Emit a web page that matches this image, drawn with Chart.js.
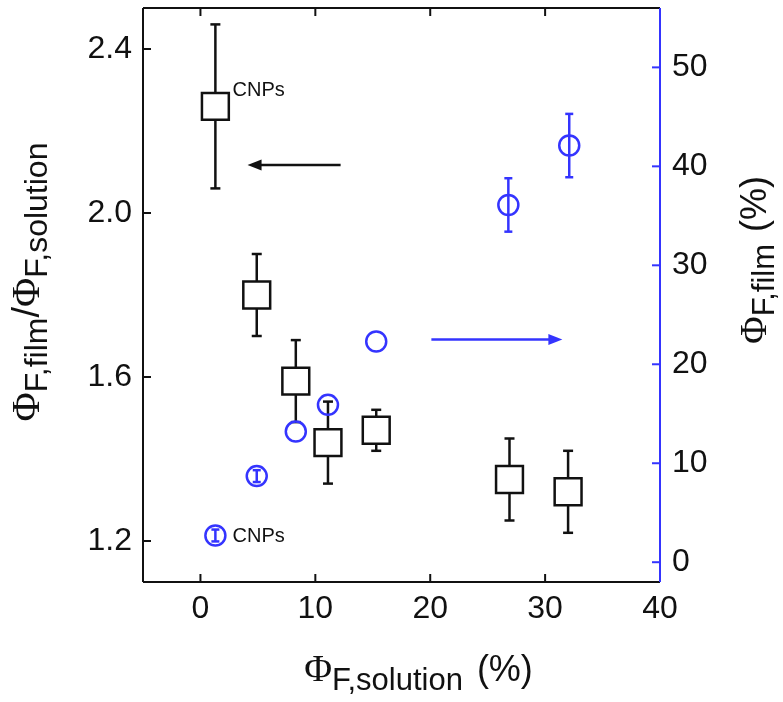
<!DOCTYPE html>
<html>
<head>
<meta charset="utf-8">
<script src="https://cdn.jsdelivr.net/npm/chart.js@4.4.0/dist/chart.umd.min.js"></script>
<style>
  html, body { margin: 0; padding: 0; background: #fff; }
  #wrap { width: 783px; height: 702px; }
</style>
</head>
<body>
<div id="wrap"><canvas id="chart" width="783" height="702"></canvas></div>
<script>
// ratio film/solution (left axis), black squares
const ratioX = [1.3, 4.9, 8.3, 11.1, 15.3, 26.9, 32.0];
const ratioY = [2.26, 1.80, 1.59, 1.44, 1.47, 1.35, 1.32];
const ratioErr = [0.20, 0.10, 0.10, 0.10, 0.05, 0.10, 0.10];

// quantum yield of the film in % (right axis), blue circles
const filmX = [1.3, 4.9, 8.3, 11.1, 15.3, 26.8, 32.1];
const filmY = [2.7, 8.7, 13.2, 15.9, 22.3, 36.1, 42.1];
const filmErr = [0.6, 0.6, 0, 0, 0, 2.7, 3.2];

const xTicks = [0, 10, 20, 30, 40];
const leftTicks = [1.2, 1.6, 2.0, 2.4];
const rightTicks = [0, 10, 20, 30, 40, 50];

const BLUE = '#3434ff';
const INK = '#111';
const SANS = '"Liberation Sans", Arial, sans-serif';
const SERIF = '"Liberation Serif", "Times New Roman", serif';

function setStatus(msg) { console.log(msg); }

function toPoints(xs, ys) { return xs.map((x, i) => ({ x, y: ys[i] })); }

function fixTicks(list) {
  return scale => { scale.ticks = list.map(v => ({ value: v })); };
}

// fixed axis box, no extra room for overhanging labels
function fitBox(prop, size) {
  return scale => {
    scale[prop] = size;
    scale.paddingTop = 0; scale.paddingBottom = 0;
    scale.paddingLeft = 0; scale.paddingRight = 0;
  };
}

function line(ctx, x1, y1, x2, y2) {
  ctx.beginPath(); ctx.moveTo(x1, y1); ctx.lineTo(x2, y2); ctx.stroke();
}

function drawErrBars(ctx, xs, ys, errs, xs_, ys_, color, cap) {
  ctx.save();
  ctx.strokeStyle = color;
  ctx.lineWidth = 2.5;
  xs.forEach((x, i) => {
    const e = errs[i];
    if (!e) return;
    const px = xs_.getPixelForValue(x);
    const top = ys_.getPixelForValue(ys[i] + e);
    const bot = ys_.getPixelForValue(ys[i] - e);
    line(ctx, px, top, px, bot);
    line(ctx, px - cap, top, px + cap, top);
    line(ctx, px - cap, bot, px + cap, bot);
  });
  ctx.restore();
}

function drawArrow(ctx, x1, y1, x2, y2, color) {
  const dir = Math.sign(x2 - x1);
  ctx.save();
  ctx.strokeStyle = color;
  ctx.fillStyle = color;
  ctx.lineWidth = 2.5;
  line(ctx, x1, y1, x2 - dir * 10, y2);
  ctx.beginPath();
  ctx.moveTo(x2, y2);
  ctx.lineTo(x2 - dir * 14, y2 - 5.5);
  ctx.lineTo(x2 - dir * 14, y2 + 5.5);
  ctx.closePath();
  ctx.fill();
  ctx.restore();
}

// text with subscripts, drawn centred on (x, y) along its baseline
function drawRich(ctx, parts, x, y, angle) {
  ctx.save();
  ctx.translate(x, y);
  ctx.rotate(angle);
  ctx.fillStyle = INK;
  ctx.textBaseline = 'alphabetic';
  ctx.textAlign = 'left';
  let total = 0;
  parts.forEach(p => { ctx.font = p.font; p.w = ctx.measureText(p.t).width + (p.gap || 0); total += p.w; });
  let cx = -total / 2;
  parts.forEach(p => {
    ctx.font = p.font;
    ctx.fillText(p.t, cx, p.dy || 0);
    cx += p.w;
  });
  ctx.restore();
}

const PHI = '38px ' + SERIF;
const SUB = '31px ' + SANS;
const MAIN = '36px ' + SANS;

const framePlugin = {
  id: 'frame',
  beforeDatasetsDraw(chart) {
    const { ctx, scales } = chart;
    drawErrBars(ctx, ratioX, ratioY, ratioErr, scales.x, scales.y, INK, 5);
    drawErrBars(ctx, filmX, filmY, filmErr, scales.x, scales.y1, BLUE, 4);
  },
  afterDraw(chart) {
    const { ctx, chartArea: a, scales } = chart;
    const { x, y, y1 } = scales;
    ctx.save();
    ctx.lineWidth = 2;
    ctx.strokeStyle = INK;
    line(ctx, a.left, a.top, a.left, a.bottom);
    line(ctx, a.left, a.top, a.right, a.top);
    line(ctx, a.left, a.bottom, a.right, a.bottom);
    xTicks.forEach(v => {
      const px = x.getPixelForValue(v);
      line(ctx, px, a.bottom, px, a.bottom - 8);
      line(ctx, px, a.top, px, a.top + 8);
    });
    leftTicks.forEach(v => {
      const py = y.getPixelForValue(v);
      line(ctx, a.left, py, a.left + 8, py);
    });
    ctx.strokeStyle = BLUE;
    line(ctx, a.right, a.top, a.right, a.bottom);
    rightTicks.forEach(v => {
      const py = y1.getPixelForValue(v);
      line(ctx, a.right, py, a.right - 8, py);
    });
    ctx.restore();

    // arrows pointing to the axis each series belongs to
    drawArrow(ctx, x.getPixelForValue(12.2), y.getPixelForValue(2.117), x.getPixelForValue(4.1), y.getPixelForValue(2.117), INK);
    drawArrow(ctx, x.getPixelForValue(20.1), y1.getPixelForValue(22.5), x.getPixelForValue(31.5), y1.getPixelForValue(22.5), BLUE);

    ctx.save();
    ctx.fillStyle = INK;
    ctx.font = '20px ' + SANS;
    ctx.textBaseline = 'middle';
    ctx.fillText('CNPs', x.getPixelForValue(2.8), y.getPixelForValue(2.30));
    ctx.fillText('CNPs', x.getPixelForValue(2.8), y1.getPixelForValue(2.6));
    ctx.restore();

    // axis titles
    drawRich(ctx, [
      { t: 'Φ', font: PHI },
      { t: 'F,solution', font: SUB, dy: 9, gap: 14 },
      { t: '(%)', font: MAIN }
    ], (a.left + a.right) / 2 + 17, 681, 0);

    drawRich(ctx, [
      { t: 'Φ', font: '40px ' + SERIF },
      { t: 'F,film', font: '32px ' + SANS, dy: 8 },
      { t: '/', font: '38px ' + SANS },
      { t: 'Φ', font: '40px ' + SERIF },
      { t: 'F,solution', font: '32px ' + SANS, dy: 8 }
    ], 39, 282, -Math.PI / 2);

    drawRich(ctx, [
      { t: 'Φ', font: PHI },
      { t: 'F,film', font: SUB, dy: 8, gap: 12 },
      { t: '(%)', font: MAIN }
    ], 766, 260, -Math.PI / 2);
  }
};

const tickFont = { family: SANS, size: 32 };

new Chart(document.getElementById('chart'), {
  type: 'scatter',
  data: {
    datasets: [
      {
        label: 'ΦF,film/ΦF,solution',
        data: toPoints(ratioX, ratioY),
        yAxisID: 'y',
        pointStyle: 'rect',
        pointRadius: 19,
        borderWidth: 2.5,
        borderColor: INK,
        backgroundColor: '#fff'
      },
      {
        label: 'ΦF,film (%)',
        data: toPoints(filmX, filmY),
        yAxisID: 'y1',
        pointStyle: 'circle',
        pointRadius: 10,
        borderWidth: 2.5,
        borderColor: BLUE,
        backgroundColor: 'rgba(0,0,0,0)'
      }
    ]
  },
  options: {
    responsive: false,
    animation: false,
    layout: { autoPadding: false, padding: { top: 8, left: 0, right: 0, bottom: 0 } },
    plugins: { legend: { display: false }, tooltip: { enabled: false } },
    scales: {
      x: {
        type: 'linear', min: -5, max: 40,
        afterBuildTicks: fixTicks(xTicks),
        afterFit: fitBox('height', 120),
        grid: { display: false, drawTicks: false },
        border: { display: false },
        ticks: { font: tickFont, color: INK, padding: 8 }
      },
      y: {
        type: 'linear', position: 'left', min: 1.1, max: 2.5,
        afterBuildTicks: fixTicks(leftTicks),
        afterFit: fitBox('width', 143),
        grid: { display: false, drawTicks: false },
        border: { display: false },
        ticks: { font: tickFont, color: INK, padding: 11, callback: v => v.toFixed(1) }
      },
      y1: {
        type: 'linear', position: 'right', min: -2, max: 56,
        afterBuildTicks: fixTicks(rightTicks),
        afterFit: fitBox('width', 123),
        grid: { display: false, drawTicks: false },
        border: { display: false },
        ticks: { font: tickFont, color: INK, padding: 12 }
      }
    }
  },
  plugins: [framePlugin]
});
setStatus('chart drawn');
</script>
</body>
</html>
